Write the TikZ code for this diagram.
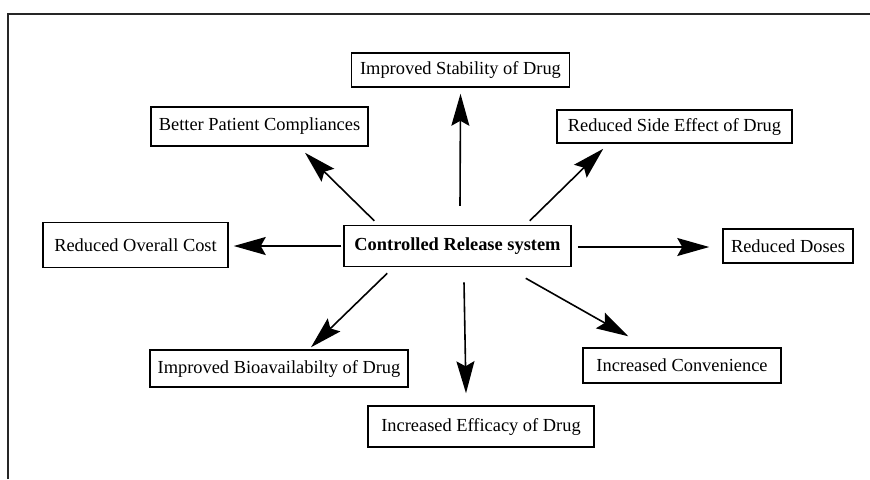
\documentclass[tikz,border=0pt]{standalone}
\usepackage{fontspec}
\setmainfont{Liberation Serif}
\usetikzlibrary{arrows.meta}
\tikzstyle{effect} = [rectangle, draw=black, line width=0.75pt, inner sep=0pt, text centered, font=\fontsize{9.2}{11}\selectfont]
\tikzstyle{core} = [effect, font=\fontsize{9.2}{11}\selectfont\bfseries]
\tikzstyle{arrow} = [line width=0.8pt, -{Stealth[length=16pt, width=9pt, inset=2.5pt]}]

\begin{document}
\begin{tikzpicture}[x=0.5pt, y=-0.5pt]
\useasboundingbox (0,0) rectangle (870,479);
% outer frame
\draw[line width=1pt, black!85] (8,479) -- (8,14) -- (870,14);

% central system
\node (crs) [core, minimum width=113.5pt, minimum height=20.5pt] at (457.5,246) {Controlled Release system};

% benefits
\node (stab) [effect, minimum width=109pt, minimum height=17pt] at (460.5,70) {Improved Stability of Drug};
\node (better) [effect, minimum width=108.5pt, minimum height=19.5pt] at (259.5,126.5) {Better Patient Compliances};
\node (side) [effect, minimum width=117.5pt, minimum height=16.5pt] at (674.5,126.5) {Reduced Side Effect of Drug};
\node (cost) [effect, minimum width=92.5pt, minimum height=22.5pt] at (135.5,245) {Reduced Overall Cost};
\node (doses) [effect, minimum width=65pt, minimum height=17pt] at (788,246) {Reduced Doses};
\node (bio) [effect, minimum width=129pt, minimum height=18.5pt] at (279,368.5) {Improved Bioavailabilty of Drug};
\node (conv) [effect, minimum width=99pt, minimum height=17.5pt] at (682,365.5) {Increased Convenience};
\node (eff) [effect, minimum width=113pt, minimum height=20.5pt] at (481,426.5) {Increased Efficacy of Drug};

% arrows out of the system
\draw[arrow] ([shift={(2.5,-19)}]crs.north) -- ([shift={(0,6)}]stab.south);
\draw[arrow] ([shift={(31,-4)}]crs.north west) -- ([shift={(45.5,6)}]better.south);
\draw[arrow] ([shift={(-42,-4)}]crs.north east) -- ([shift={(47,5)}]side.south west);
\draw[arrow] ([shift={(-2,0)}]crs.west) -- ([shift={(5,1)}]cost.east);
\draw[arrow] ([shift={(6,1)}]crs.east) -- ([shift={(-13,1)}]doses.west);
\draw[arrow] ([shift={(44,6)}]crs.south west) -- ([shift={(32,-2)}]bio.north);
\draw[arrow] ([shift={(6.5,15)}]crs.south) -- ([shift={(-15,-12)}]eff.north);
\draw[arrow] ([shift={(-46,11)}]crs.south east) -- ([shift={(46,-11)}]conv.north west);
\end{tikzpicture}
\end{document}
